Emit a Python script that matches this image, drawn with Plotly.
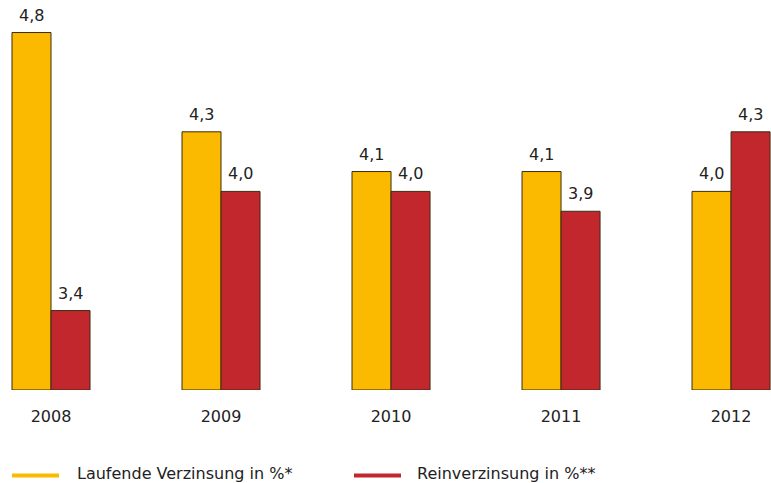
import plotly.graph_objects as go

years = ["2008", "2009", "2010", "2011", "2012"]
laufend = [4.8, 4.3, 4.1, 4.1, 4.0]
rein = [3.4, 4.0, 4.0, 3.9, 4.3]
names = ["Laufende Verzinsung in %*", "Reinverzinsung in %**"]
colors = ["#FBB900", "#C1272D"]
Y0 = 3.0

W, H = 771, 483
PLOT_H = 390
FONT = "DejaVu Sans, Verdana, sans-serif"

fig = go.Figure()
for vals, name, col in zip([laufend, rein], names, colors):
    fig.add_trace(go.Bar(
        x=years, y=[v - Y0 for v in vals], base=Y0,
        marker=dict(color=col, line=dict(color="#3a2e10", width=1)),
        showlegend=False, name=name, cliponaxis=False,
    ))

# value labels above bars (x given as category index)
annotations = []
for vals, shift in zip([laufend, rein], [-19.5, 19.5]):
    for i, v in enumerate(vals):
        annotations.append(dict(
            x=i, y=v, xref="x", yref="y", xshift=shift, yshift=6,
            text=f"{v:.1f}".replace(".", ","), showarrow=False,
            xanchor="center", yanchor="bottom",
            font=dict(family=FONT, size=16, color="#222222"),
        ))

# custom legend (line + text), placed below plot area
leg_y = -(475.5 - PLOT_H) / PLOT_H
txt_y = -(473.5 - PLOT_H) / PLOT_H
shapes = []
for (lx0, lx1, tx), name, col in zip([(12, 59, 75), (354, 401, 415)], names, colors):
    shapes.append(dict(type="line", xref="paper", yref="paper",
                       x0=lx0 / W, x1=lx1 / W, y0=leg_y, y1=leg_y,
                       line=dict(color=col, width=4)))
    annotations.append(dict(x=tx / W, y=txt_y, xref="paper", yref="paper",
                            text=name, showarrow=False, xanchor="left", yanchor="middle",
                            font=dict(family=FONT, size=16, color="#222222")))

fig.update_layout(
    width=W, height=H,
    margin=dict(l=0, r=0, t=0, b=H - PLOT_H, autoexpand=False),
    plot_bgcolor="white", paper_bgcolor="white",
    barmode="group", bargap=0.541, bargroupgap=0,
    xaxis=dict(type="category", range=[-0.3, 4.235], showline=False, showgrid=False, ticks="",
               ticklabelstandoff=15, automargin=False, zeroline=False,
               tickfont=dict(family=FONT, size=16, color="#222222")),
    yaxis=dict(range=[Y0, Y0 + PLOT_H / 198.6], showgrid=False, showline=False,
               showticklabels=False, ticks="", zeroline=False, automargin=False),
    showlegend=False,
    annotations=annotations, shapes=shapes,
)
fig.write_html("out.html", config={"displayModeBar": False},
               post_script="document.body.style.margin='0';document.body.style.overflow='hidden';")
